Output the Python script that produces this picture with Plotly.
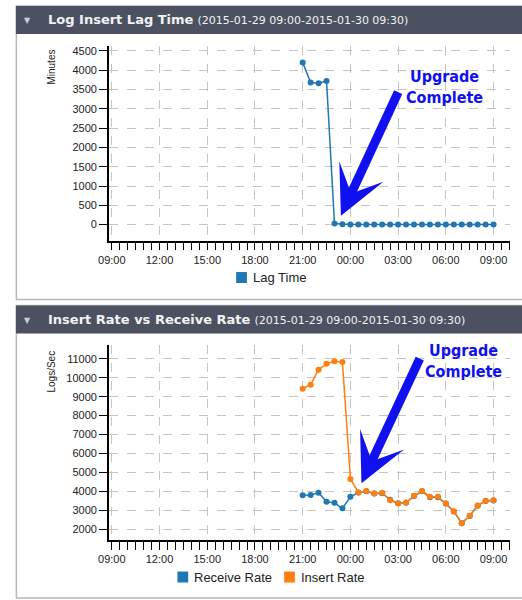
import pandas as pd
import plotly.graph_objects as go

# ---------------- data ----------------
times = list(pd.date_range("2015-01-29 21:00", "2015-01-30 09:00", freq="30min"))
lag_minutes = [4200, 3680, 3660, 3720, 30, 10, 6, 5, 5, 4, 4, 4, 3, 3, 3, 3, 3, 3, 3, 3, 3, 3, 3, 3, 3]
receive_rate = [3800, 3820, 3930, 3460, 3400, 3110, 3720, 3940, 4010, 3900, 3910, 3560, 3380,
                3400, 3760, 4010, 3700, 3690, 3360, 2950, 2330, 2710, 3250, 3500, 3530]
insert_rate = [9420, 9630, 10420, 10740, 10860, 10820, 4660, 3950, 4030, 3890, 3930, 3540, 3370,
               3420, 3770, 4030, 3720, 3720, 3370, 2960, 2320, 2720, 3260, 3510, 3540]
lag_ticks = [0, 500, 1000, 1500, 2000, 2500, 3000, 3500, 4000, 4500]
rate_ticks = [2000, 3000, 4000, 5000, 6000, 7000, 8000, 9000, 10000, 11000]
x_range = ["2015-01-29 08:49", "2015-01-30 10:03"]
title1 = "Log Insert Lag Time"
title2 = "Insert Rate vs Receive Rate"
period = "(2015-01-29 09:00-2015-01-30 09:30)"
legend1 = ["Lag Time"]
legend2 = ["Receive Rate", "Insert Rate"]

BLUE = "#1f77b4"
ORANGE = "#ff7f0e"
W, H = 522, 600


def px(x):
    return x / W


def py(y):
    return 1 - y / H


fig = go.Figure()

fig.add_trace(go.Scatter(x=times, y=lag_minutes, mode="lines+markers", xaxis="x", yaxis="y",
                         name=legend1[0], line=dict(color=BLUE, width=1.5),
                         marker=dict(color=BLUE, size=6), showlegend=False))
fig.add_trace(go.Scatter(x=times, y=receive_rate, mode="lines+markers", xaxis="x2", yaxis="y2",
                         name=legend2[0], line=dict(color=BLUE, width=1.5),
                         marker=dict(color=BLUE, size=6), showlegend=False))
fig.add_trace(go.Scatter(x=times, y=insert_rate, mode="lines+markers", xaxis="x2", yaxis="y2",
                         name=legend2[1], line=dict(color=ORANGE, width=1.5),
                         marker=dict(color=ORANGE, size=6), showlegend=False))

tickfont = dict(family="Liberation Sans, Arial", size=11, color="#222")
xcommon = dict(type="date", range=x_range, tickformat="%H:%M", dtick=3 * 3600000,
               tick0="2015-01-29 09:00", ticks="outside", ticklen=8, tickcolor="#000",
               showline=True, linecolor="#000", linewidth=1.5, showgrid=True,
               gridcolor="#c4c4c4", griddash="dash", gridwidth=1, tickfont=tickfont,
               minor=dict(dtick=1800000, tick0="2015-01-29 09:00", ticks="outside", ticklen=8,
                          tickcolor="#000", showgrid=False),
               zeroline=False, fixedrange=True)
ycommon = dict(ticks="outside", ticklen=8, tickcolor="#000", showline=True, linecolor="#000",
               linewidth=1.5, showgrid=True, gridcolor="#c4c4c4", griddash="dash", gridwidth=1,
               tickfont=tickfont, zeroline=False, fixedrange=True, tickformat="d")

fig.update_layout(
    width=W, height=H, margin=dict(l=0, r=0, t=0, b=0),
    paper_bgcolor="white", plot_bgcolor="white", showlegend=False,
    xaxis=dict(domain=[px(100), px(510)], anchor="y", **xcommon),
    yaxis=dict(domain=[py(240), py(45)], anchor="x", range=[-414, 4629],
               tickvals=lag_ticks, **ycommon),
    xaxis2=dict(domain=[px(100), px(510)], anchor="y2", **xcommon),
    yaxis2=dict(domain=[py(540), py(345)], anchor="x2", range=[1437, 11700],
                tickvals=rate_ticks, **ycommon),
)

# panels and headers
shapes = []
for top, bottom in [(5, 299), (305, 598)]:
    shapes.append(dict(type="rect", xref="paper", yref="paper", x0=px(5.5), x1=px(540),
                       y0=py(bottom), y1=py(top), line=dict(color="#b8b8b8", width=1.5),
                       fillcolor="rgba(0,0,0,0)", layer="below"))
    shapes.append(dict(type="rect", xref="paper", yref="paper", x0=px(5), x1=px(540),
                       y0=py(top + 28), y1=py(top), line=dict(width=0),
                       fillcolor="#4b5160", layer="above"))

annots = []
for top, title in [(5, title1), (305, title2)]:
    annots.append(dict(xref="paper", yref="paper", x=px(17), y=py(top + 15), text="▼",
                       showarrow=False, xanchor="center", yanchor="middle",
                       font=dict(family="DejaVu Sans", size=8, color="#c9ced8")))
    annots.append(dict(xref="paper", yref="paper", x=px(36), y=py(top + 14),
                       text=f"<b>{title}</b> <span style='font-size:11px'>{period}</span>",
                       showarrow=False, xanchor="left", yanchor="middle",
                       font=dict(family="DejaVu Sans", size=13, color="#f2f2f2")))

# legends (square swatch + label)
legfont = dict(family="Liberation Sans, Arial", size=13, color="#222")
for names, colors, sq_lefts, yc in [(legend1, [BLUE], [230], 277),
                                    (legend2, [BLUE, ORANGE], [170, 279], 577)]:
    for name, col, x0 in zip(names, colors, sq_lefts):
        shapes.append(dict(type="rect", xref="paper", yref="paper", x0=px(x0), x1=px(x0 + 11),
                           y0=py(yc + 5.5), y1=py(yc - 5.5), line=dict(width=0), fillcolor=col))
        annots.append(dict(xref="paper", yref="paper", x=px(x0 + 15), y=py(yc), text=name,
                           showarrow=False, xanchor="left", yanchor="middle", font=legfont))

# axis titles
annots.append(dict(xref="paper", yref="paper", x=px(41), y=py(47), text="Minutes", textangle=-90,
                   showarrow=False, xanchor="center", yanchor="top",
                   font=dict(family="Liberation Sans, Arial", size=10, color="#222")))
annots.append(dict(xref="paper", yref="paper", x=px(41), y=py(348), text="Logs/Sec", textangle=-90,
                   showarrow=False, xanchor="center", yanchor="top",
                   font=dict(family="Liberation Sans, Arial", size=10, color="#222")))

# "Upgrade Complete" callouts
CALL = "#1010f0"
callfont = dict(family="DejaVu Sans Condensed, DejaVu Sans", size=16, color=CALL)
for (tx, ty), (tipx, tipy), (tailx, taily) in [((443, 86), (337, 215), (395, 90)),
                                                ((462, 361), (358, 483), (417, 357))]:
    annots.append(dict(xref="paper", yref="paper", x=px(tx), y=py(ty),
                       text="<b>Upgrade<br>Complete</b>", showarrow=False, align="center",
                       xanchor="center", yanchor="middle", font=callfont))
    annots.append(dict(xref="paper", yref="paper", x=px(tipx), y=py(tipy), text="",
                       showarrow=True, ax=tailx - tipx, ay=taily - tipy, arrowhead=3,
                       arrowwidth=9, arrowsize=0.9, arrowcolor=CALL))

fig.update_layout(shapes=shapes, annotations=annots)

fig.write_html("out.html", config={"displayModeBar": False},
               post_script="document.body.style.margin='0';document.body.style.overflow='hidden';")
